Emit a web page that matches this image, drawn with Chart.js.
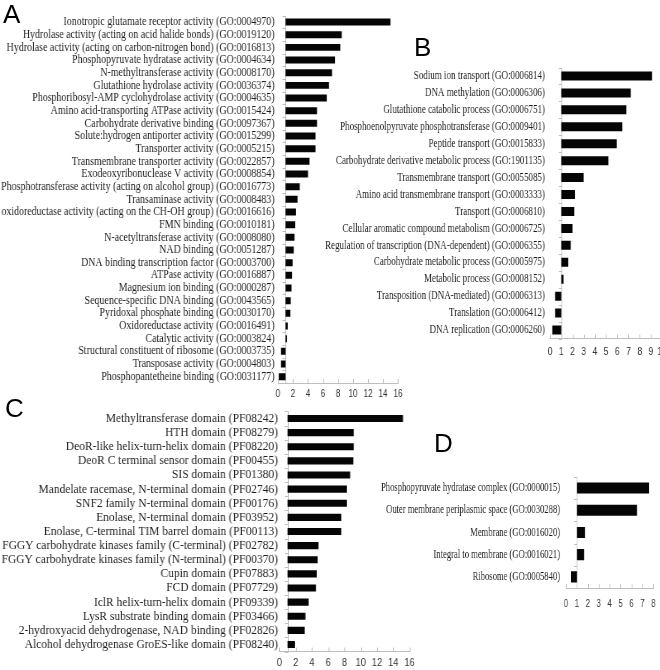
<!DOCTYPE html>
<html><head><meta charset="utf-8">
<script src="https://cdn.jsdelivr.net/npm/chart.js@4.4.1/dist/chart.umd.min.js"></script>
<style>
html,body{margin:0;padding:0;width:660px;height:670px;overflow:hidden;background:#fff;}
.panel{position:absolute;}
.panel canvas{position:absolute;left:0;top:0;transform-origin:0 0;}
.letter{position:absolute;font-family:"Liberation Sans",Arial,sans-serif;font-size:26px;line-height:26px;color:#000;}
</style></head><body>
<div class="panel" id="pA"></div>
<div class="panel" id="pB"></div>
<div class="panel" id="pC"></div>
<div class="panel" id="pD"></div>
<div class="letter" style="left:3px;top:1px;">A</div>
<div class="letter" style="left:414px;top:34px;">B</div>
<div class="letter" style="left:5px;top:395px;">C</div>
<div class="letter" style="left:434px;top:430px;">D</div>
<script>
// ---- Panel A: molecular function ----
const aCategories = [
  "Ionotropic glutamate receptor activity (GO:0004970)",
  "Hydrolase activity (acting on acid halide bonds) (GO:0019120)",
  "Hydrolase activity (acting on carbon-nitrogen bond) (GO:0016813)",
  "Phosphopyruvate hydratase activity (GO:0004634)",
  "N-methyltransferase activity (GO:0008170)",
  "Glutathione hydrolase activity (GO:0036374)",
  "Phosphoribosyl-AMP cyclohydrolase activity (GO:0004635)",
  "Amino acid-transporting ATPase activity (GO:0015424)",
  "Carbohydrate derivative binding (GO:0097367)",
  "Solute:hydrogen antiporter activity (GO:0015299)",
  "Transporter activity (GO:0005215)",
  "Transmembrane transporter activity (GO:0022857)",
  "Exodeoxyribonuclease V activity (GO:0008854)",
  "Phosphotransferase activity (acting on alcohol group) (GO:0016773)",
  "Transaminase activity (GO:0008483)",
  "oxidoreductase activity (acting on the CH-OH group) (GO:0016616)",
  "FMN binding (GO:0010181)",
  "N-acetyltransferase activity (GO:0008080)",
  "NAD binding (GO:0051287)",
  "DNA binding transcription factor (GO:0003700)",
  "ATPase activity (GO:0016887)",
  "Magnesium ion binding (GO:0000287)",
  "Sequence-specific DNA binding (GO:0043565)",
  "Pyridoxal phosphate binding (GO:0030170)",
  "Oxidoreductase activity (GO:0016491)",
  "Catalytic activity (GO:0003824)",
  "Structural constituent of ribosome (GO:0003735)",
  "Transposase activity (GO:0004803)",
  "Phosphopantetheine binding (GO:0031177)"
];
const aValues = [15.0, 8.5, 8.3, 7.6, 7.2, 6.8, 6.5, 5.2, 5.2, 5.0, 5.0, 4.2, 4.0, 2.9, 2.6, 2.4, 2.3, 2.2, 2.1, 1.95, 1.87, 1.8, 1.7, 1.65, 1.3, 1.2, 0.4, 0.4, 0.1];
const aAxisMax = 16, aAxisStep = 2;

// ---- Panel B: biological process ----
const bCategories = [
  "Sodium ion transport (GO:0006814)",
  "DNA methylation (GO:0006306)",
  "Glutathione catabolic process (GO:0006751)",
  "Phosphoenolpyruvate phosphotransferase (GO:0009401)",
  "Peptide transport (GO:0015833)",
  "Carbohydrate derivative metabolic process (GO:1901135)",
  "Transmembrane transport (GO:0055085)",
  "Amino acid transmembrane transport (GO:0003333)",
  "Transport (GO:0006810)",
  "Cellular aromatic compound metabolism (GO:0006725)",
  "Regulation of transcription (DNA-dependent) (GO:0006355)",
  "Carbohydrate metabolic process (GO:0005975)",
  "Metabolic process (GO:0008152)",
  "Transposition (DNA-mediated) (GO:0006313)",
  "Translation (GO:0006412)",
  "DNA replication (GO:0006260)"
];
const bValues = [9.1, 7.2, 6.8, 6.45, 5.95, 5.2, 3.0, 2.23, 2.17, 2.0, 1.85, 1.63, 1.2, 0.45, 0.45, 0.2];
const bAxisMax = 10, bAxisStep = 1;

// ---- Panel C: protein domains ----
const cCategories = [
  "Methyltransferase domain (PF08242)",
  "HTH domain (PF08279)",
  "DeoR-like helix-turn-helix domain (PF08220)",
  "DeoR C terminal sensor domain (PF00455)",
  "SIS domain (PF01380)",
  "Mandelate racemase, N-terminal domain (PF02746)",
  "SNF2 family N-terminal domain (PF00176)",
  "Enolase, N-terminal domain (PF03952)",
  "Enolase, C-terminal TIM barrel domain (PF00113)",
  "FGGY carbohydrate kinases family (C-terminal) (PF02782)",
  "FGGY carbohydrate kinases family (N-terminal) (PF00370)",
  "Cupin domain (PF07883)",
  "FCD domain (PF07729)",
  "IclR helix-turn-helix domain (PF09339)",
  "LysR substrate binding domain (PF03466)",
  "2-hydroxyacid dehydrogenase, NAD binding (PF02826)",
  "Alcohol dehydrogenase GroES-like domain (PF08240)"
];
const cValues = [15.2, 9.15, 9.15, 9.1, 8.7, 8.3, 8.3, 7.6, 7.6, 4.8, 4.7, 4.6, 4.5, 3.6, 3.2, 3.1, 1.9];
const cAxisMax = 16, cAxisStep = 2;

// ---- Panel D: cellular component ----
const dCategories = [
  "Phosphopyruvate hydratase complex (GO:0000015)",
  "Outer membrane periplasmic space (GO:0030288)",
  "Membrane (GO:0016020)",
  "Integral to membrane (GO:0016021)",
  "Ribosome (GO:0005840)"
];
const dValues = [7.6, 6.5, 1.75, 1.65, 0.45];
const dAxisMax = 8, dAxisStep = 1;

const BASE_VALUE = 1;

const axisDecor = {
  id: 'axisDecor',
  beforeDatasetsDraw(chart) {
    const {ctx, chartArea, scales: {x, y}} = chart;
    ctx.save();
    ctx.strokeStyle = '#bdbdbd';
    ctx.lineWidth = 1;
    const bx = Math.round(x.getPixelForValue(BASE_VALUE)) + 0.5;
    ctx.beginPath();
    ctx.moveTo(bx, chartArea.top);
    ctx.lineTo(bx, chartArea.bottom);
    const n = chart.data.labels.length;
    for (let i = 0; i <= n; i++) {
      const yy = Math.round(y.getPixelForValue(i - 0.5)) + 0.5;
      ctx.moveTo(bx - 4, yy);
      ctx.lineTo(bx, yy);
    }
    x.ticks.forEach(t => {
      const px = Math.round(x.getPixelForValue(t.value)) + 0.5;
      ctx.moveTo(px, chartArea.bottom);
      ctx.lineTo(px, chartArea.bottom - 4);
    });
    ctx.stroke();
    ctx.restore();
  }
};

function makePanel(id, p, categories, values, axisMax, axisStep) {
  const wrap = document.getElementById(id);
  wrap.style.left = p.left + 'px';
  wrap.style.top = p.top + 'px';
  wrap.style.width = p.width + 'px';
  wrap.style.height = p.height + 'px';
  const cv = document.createElement('canvas');
  const cw = Math.round(p.width / p.s);
  cv.width = cw; cv.height = p.height;
  cv.style.width = cw + 'px'; cv.style.height = p.height + 'px';
  cv.style.transform = 'scaleX(' + p.s + ')';
  wrap.appendChild(cv);
  const yW = (p.chartLeft - p.left) / p.s;
  const padRight = cw - (p.chartRight - p.left) / p.s;
  const padTop = p.chartTop - p.top;
  const xH = p.top + p.height - p.chartBottom;
  new Chart(cv, {
    type: 'bar',
    data: {
      labels: categories,
      datasets: [{
        data: values, base: BASE_VALUE,
        backgroundColor: '#050505', borderWidth: 0,
        barPercentage: p.bar, categoryPercentage: 1
      }]
    },
    options: {
      indexAxis: 'y', responsive: false, animation: false, devicePixelRatio: 1,
      layout: {padding: {left: 0, right: padRight, top: padTop, bottom: 0}},
      plugins: {legend: {display: false}, tooltip: {enabled: false}},
      scales: {
        x: {
          min: 0, max: axisMax,
          ticks: {stepSize: axisStep, autoSkip: false, maxRotation: 0,
                  font: {family: 'Liberation Sans', size: p.tickSize}, color: '#333', padding: p.tickPad},
          grid: {display: false, drawTicks: false},
          border: {display: true, color: '#bdbdbd', width: 1},
          afterFit(sc) { sc.height = xH; sc.paddingLeft = 0; sc.paddingRight = 0; }
        },
        y: {
          ticks: {autoSkip: false, font: {family: 'Liberation Serif', size: p.fontSize},
                  color: '#1e1e1e', padding: p.labelPad / p.s},
          grid: {display: false, drawTicks: false},
          border: {display: false},
          afterFit(sc) { sc.width = yW; sc.paddingTop = 0; sc.paddingBottom = 0; }
        }
      }
    },
    plugins: [axisDecor]
  });
}

makePanel('pA', {left: 0, top: 0, width: 410, height: 405, s: 0.827,
  chartLeft: 278, chartRight: 398, chartTop: 15.7, chartBottom: 383,
  fontSize: 12, labelPad: 3.5, tickSize: 10, tickPad: 5, bar: 0.55}, aCategories, aValues, aAxisMax, aAxisStep);
makePanel('pB', {left: 320, top: 55, width: 360, height: 305, s: 0.75,
  chartLeft: 550, chartRight: 662.2, chartTop: 67.5, chartBottom: 338.5,
  fontSize: 12, labelPad: 5, tickSize: 11.5, tickPad: 6, bar: 0.53}, bCategories, bValues, bAxisMax, bAxisStep);
makePanel('pC', {left: 0, top: 405, width: 420, height: 265, s: 0.883,
  chartLeft: 279.4, chartRight: 409.5, chartTop: 411.4, chartBottom: 651.6,
  fontSize: 13, labelPad: 1.5, tickSize: 10.5, tickPad: 5, bar: 0.5}, cCategories, cValues, cAxisMax, cAxisStep);
makePanel('pD', {left: 360, top: 445, width: 300, height: 175, s: 0.715,
  chartLeft: 566, chartRight: 653.3, chartTop: 476.9, chartBottom: 588,
  fontSize: 12, labelPad: 6, tickSize: 11, tickPad: 9, bar: 0.5}, dCategories, dValues, dAxisMax, dAxisStep);
</script>
</body></html>
